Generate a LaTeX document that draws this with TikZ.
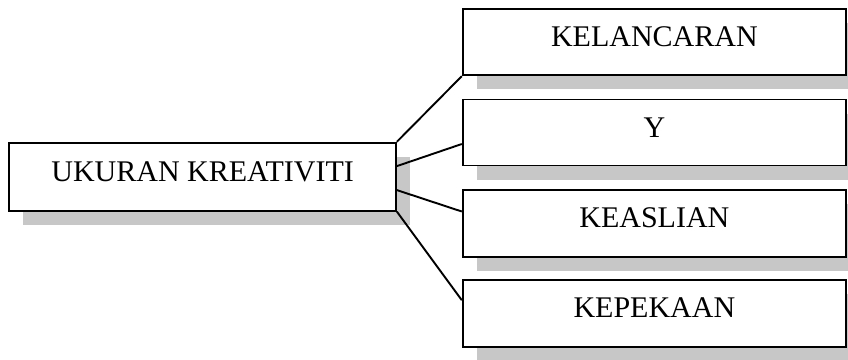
\documentclass[tikz,border=0pt]{standalone}
\usepackage{fontspec}
\setmainfont{Liberation Serif}
\usetikzlibrary{shadows}

\begin{document}
\begin{tikzpicture}[x=1pt, y=-1pt,
        kotak/.style={draw, line width=1.9pt, fill=white, inner sep=0pt, text depth=10.5pt,
            font=\fontsize{30}{36}\selectfont,
            drop shadow={shadow xshift=14pt, shadow yshift=-14pt, fill=black!22, opacity=1}},
        garis/.style={line width=1.9pt}]
        \useasboundingbox (0, 0) rectangle (848, 359);
        \node[kotak, minimum width=386.7pt, minimum height=68pt] (ukuran) at (202.6, 176.7) {UKURAN KREATIVITI};
        \node[kotak, minimum width=383.3pt, minimum height=66pt] (kelancaran) at (654.4, 42.2) {KELANCARAN};
        \node[kotak, minimum width=383.3pt, minimum height=66pt] (y) at (654.4, 132.5) {Y};
        \node[kotak, minimum width=383.3pt, minimum height=67pt] (keaslian) at (654.4, 223.2) {KEASLIAN};
        \node[kotak, minimum width=383.3pt, minimum height=67pt] (kepekaan) at (654.4, 313.2) {KEPEKAAN};
        % garis dari ukuran ke setiap kotak
        \draw[garis] (ukuran.north east) -- (kelancaran.south west);
        \draw[garis] ([yshift=10.6pt]ukuran.east) -- ([yshift=-11.5pt]y.west);
        \draw[garis] ([yshift=-13.4pt]ukuran.east) -- ([yshift=11.7pt]keaslian.west);
        \draw[garis] (ukuran.south east) -- ([yshift=13pt]kepekaan.west);
    \end{tikzpicture}
\end{document}
